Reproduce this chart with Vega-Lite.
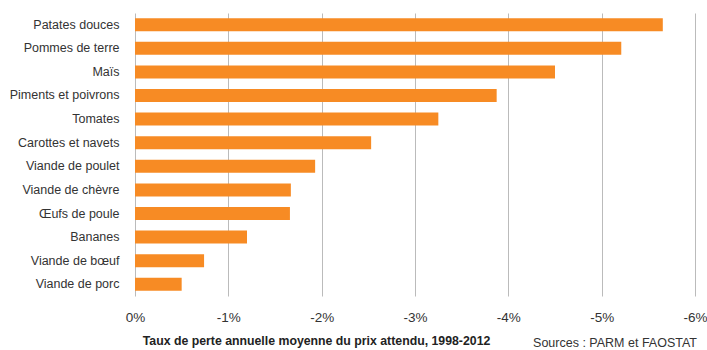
{
  "$schema": "https://vega.github.io/schema/vega-lite/v6.json",
  "width": 560,
  "height": 283,
  "autosize": {"type": "none"},
  "padding": {"left": 135, "top": 13, "right": 12, "bottom": 54},
  "background": "white",
  "config": {
    "view": {"stroke": null},
    "font": "Liberation Sans",
    "axis": {"labelFont": "Liberation Sans", "titleFont": "Liberation Sans"}
  },
  "title": {
    "text": "Sources : PARM et FAOSTAT",
    "orient": "bottom",
    "anchor": "end",
    "frame": "group",
    "fontSize": 12.5,
    "fontWeight": "normal",
    "color": "#333333",
    "offset": -9,
    "dx": 2
  },
  "data": {
    "values": [
      {"produit": "Patates douces", "taux": -5.655},
      {"produit": "Pommes de terre", "taux": -5.21},
      {"produit": "Maïs", "taux": -4.50},
      {"produit": "Piments et poivrons", "taux": -3.875},
      {"produit": "Tomates", "taux": -3.25},
      {"produit": "Carottes et navets", "taux": -2.53},
      {"produit": "Viande de poulet", "taux": -1.93},
      {"produit": "Viande de chèvre", "taux": -1.67},
      {"produit": "Œufs de poule", "taux": -1.66},
      {"produit": "Bananes", "taux": -1.20},
      {"produit": "Viande de bœuf", "taux": -0.74},
      {"produit": "Viande de porc", "taux": -0.50}
    ]
  },
  "mark": {"type": "bar", "color": "#F78B24"},
  "encoding": {
    "y": {
      "field": "produit",
      "type": "nominal",
      "sort": null,
      "scale": {"paddingInner": 0.45, "paddingOuter": 0.22},
      "axis": {
        "title": null,
        "ticks": false,
        "domain": false,
        "labelFontSize": 12.5,
        "labelColor": "#333333",
        "labelPadding": 16
      }
    },
    "x": {
      "field": "taux",
      "type": "quantitative",
      "scale": {"domain": [0, -6], "nice": false},
      "axis": {
        "values": [0, -1, -2, -3, -4, -5, -6],
        "labelExpr": "datum.value + '%'",
        "labelFontSize": 13.5,
        "labelFlush": false,
        "labelColor": "#333333",
        "labelPadding": 14,
        "ticks": false,
        "domain": false,
        "grid": true,
        "gridColor": "#BBBBBB",
        "gridWidth": 1,
        "title": "Taux de perte annuelle moyenne du prix attendu, 1998-2012",
        "titleFontSize": 12.3,
        "titleFontWeight": "bold",
        "titleColor": "#222222",
        "titleAlign": "center",
        "titleAnchor": null,
        "titleX": 181,
        "titleY": 44,
        "titleBaseline": "middle"
      }
    }
  }
}
